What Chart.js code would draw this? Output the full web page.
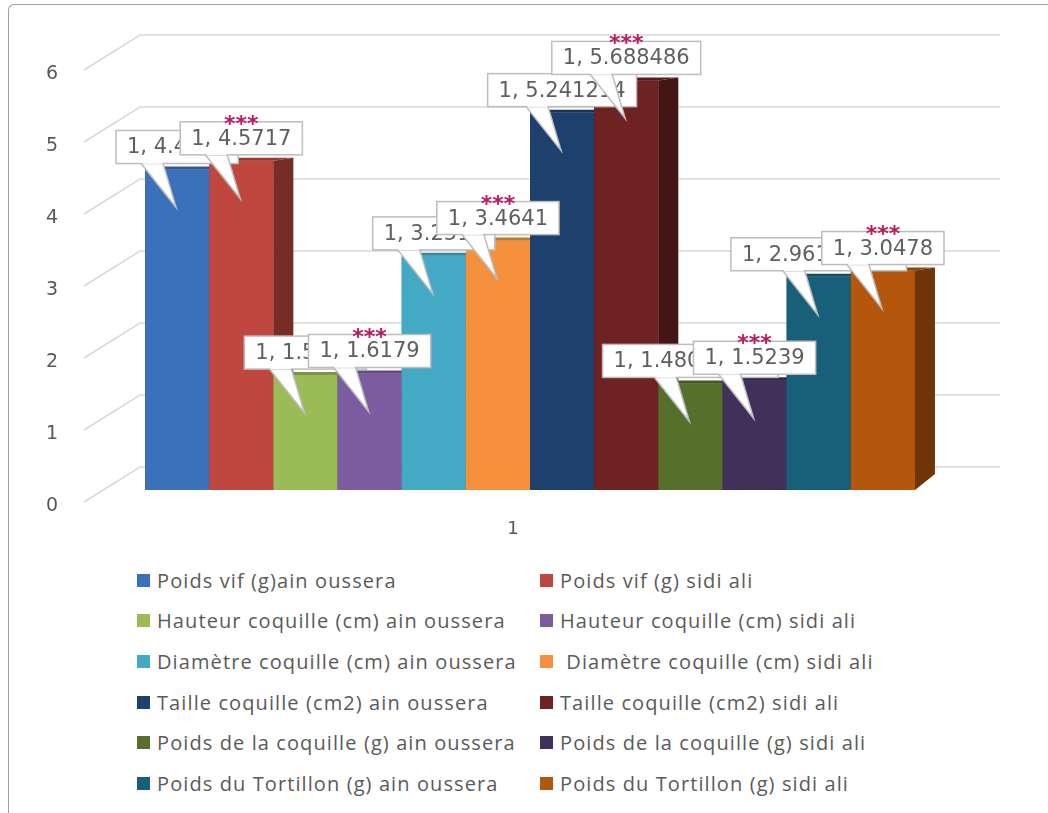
<!DOCTYPE html>
<html>
<head>
<meta charset="utf-8">
<script src="https://cdn.jsdelivr.net/npm/chart.js@4"></script>
<style>
	body { margin: 0; background: #fff; }
	#wrap { position: relative; width: 1048px; height: 813px; overflow: hidden; background: #fff; }
	#frame { position: absolute; left: 8px; top: 4px; width: 1100px; height: 900px; border-left: 1.5px solid #a0a0a0; border-top: 1.5px solid #a0a0a0; border-top-left-radius: 6px; }
	#box { position: absolute; left: 0; top: 0; width: 1048px; height: 555px; }
	#legend { position: absolute; left: 137px; top: 560px; display: grid; grid-template-columns: 403px 400px; font-family: "Open Sans", sans-serif; font-size: 20px; letter-spacing: 1.1px; color: #5a5a5a; }
	.item { height: 40.6px; display: flex; align-items: center; white-space: pre; }
	.sw { width: 13px; height: 13px; margin-right: 7px; flex: none; }
</style>
</head>
<body>
<div id="wrap">
	<div id="frame"></div>
	<div id="box"><canvas id="chart"></canvas></div>
	<div id="legend"></div>
</div>
<script>
const categories = ["1"];
const seriesNames = [
	"Poids vif (g)ain oussera",
	"Poids vif (g) sidi ali",
	"Hauteur coquille (cm) ain oussera",
	"Hauteur coquille (cm) sidi ali",
	"Diamètre coquille (cm) ain oussera",
	" Diamètre coquille (cm) sidi ali",
	"Taille coquille (cm2) ain oussera",
	"Taille coquille (cm2) sidi ali",
	"Poids de la coquille (g) ain oussera",
	"Poids de la coquille (g) sidi ali",
	"Poids du Tortillon (g) ain oussera",
	"Poids du Tortillon (g) sidi ali",
];
const seriesValues = [4.4512, 4.5717, 1.5962, 1.6179, 3.2519, 3.4641, 5.241214, 5.688486, 1.48033333, 1.5239, 2.96166667, 3.0478];
const significance = ["", "***", "", "***", "", "***", "", "***", "", "***", "", "***"];
const seriesColors = ["#3b71ba", "#c0473f", "#9bbb57", "#7b5c9f", "#43a9c5", "#f5913d", "#1d416c", "#6e2222", "#56702b", "#40305a", "#18607a", "#b4560b"];
const yTicks = [0, 1, 2, 3, 4, 5, 6];

function darken(hex, f) {
	const n = parseInt(hex.slice(1), 16);
	const r = Math.round(((n >> 16) & 255) * f);
	const g = Math.round(((n >> 8) & 255) * f);
	const b = Math.round((n & 255) * f);
	return "rgb(" + r + "," + g + "," + b + ")";
}

// fake 3d: back wall lines, then bars redrawn left to right with side + top face, then callouts
const depth = { dx: 20, top: -3, base: -16 };
const threeD = {
	id: "threeD",
	beforeDatasetsDraw(chart) {
		const ctx = chart.ctx;
		const y = chart.scales.y;
		ctx.save();
		ctx.strokeStyle = "#d9d9d9";
		ctx.lineWidth = 1.5;
		yTicks.forEach((v) => {
			const py = y.getPixelForValue(v);
			ctx.beginPath();
			ctx.moveTo(84, py + 12);
			ctx.lineTo(140, py - 23);
			ctx.lineTo(1000, py - 23);
			ctx.stroke();
		});
		ctx.restore();
	},
	afterDatasetsDraw(chart) {
		const ctx = chart.ctx;
		ctx.save();
		chart.data.datasets.forEach((ds, i) => {
			const el = chart.getDatasetMeta(i).data[0];
			el.draw(ctx, chart.chartArea);
			const p = el.getProps(["x", "y", "base", "width"], true);
			const l = p.x - p.width / 2, r = p.x + p.width / 2;
			const col = seriesColors[i];
			ctx.fillStyle = darken(col, 0.62);
			ctx.beginPath();
			ctx.moveTo(r, p.y);
			ctx.lineTo(r + depth.dx, p.y + depth.top);
			ctx.lineTo(r + depth.dx, p.base + depth.base);
			ctx.lineTo(r, p.base);
			ctx.closePath();
			ctx.fill();
			ctx.fillStyle = darken(col, 0.8);
			ctx.beginPath();
			ctx.moveTo(l, p.y);
			ctx.lineTo(r, p.y);
			ctx.lineTo(r + depth.dx, p.y + depth.top);
			ctx.lineTo(l + depth.dx, p.y + depth.top);
			ctx.closePath();
			ctx.fill();
		});

		chart.data.datasets.forEach((ds, i) => {
			const el = chart.getDatasetMeta(i).data[0];
			const cx = el.x, top = el.y;
			const text = categories[0] + ", " + ds.data[0];
			ctx.font = "21px 'DejaVu Sans'";
			const w = ctx.measureText(text).width + 22;
			const h = 33;
			const bx = cx - w / 2, by = top - 6 - h;
			ctx.fillStyle = "#fff";
			ctx.strokeStyle = "#bdbdbd";
			ctx.lineWidth = 1.5;
			ctx.beginPath();
			ctx.moveTo(cx - 36, by + h);
			ctx.lineTo(cx - 1, top + 38);
			ctx.lineTo(cx - 14, by + h);
			ctx.fill();
			ctx.stroke();
			ctx.fillRect(bx, by, w, h);
			ctx.strokeRect(bx, by, w, h);
			ctx.beginPath();
			ctx.moveTo(cx - 35, by + h - 1);
			ctx.lineTo(cx - 15, by + h - 1);
			ctx.lineWidth = 2.5;
			ctx.strokeStyle = "#fff";
			ctx.stroke();
			ctx.fillStyle = "#5f5f5f";
			ctx.textAlign = "center";
			ctx.textBaseline = "middle";
			ctx.fillText(text, cx, by + h / 2 + 1);
			if (significance[i]) {
				ctx.font = "bold 22px 'DejaVu Sans'";
				ctx.fillStyle = "#c0185c";
				ctx.textBaseline = "alphabetic";
				ctx.fillText(significance[i], cx, by + 9);
			}
		});
		ctx.restore();
	},
};

const datasets = seriesNames.map((name, i) => ({
	label: name,
	data: [seriesValues[i]],
	backgroundColor: seriesColors[i],
	borderWidth: 0,
	categoryPercentage: 0.885,
	barPercentage: 1,
}));

new Chart(document.getElementById("chart"), {
	type: "bar",
	data: { labels: categories, datasets: datasets },
	plugins: [threeD],
	options: {
		responsive: true,
		maintainAspectRatio: false,
		animation: false,
		layout: { padding: { left: 0, right: 83, top: 58, bottom: 0 } },
		plugins: { legend: { display: false }, tooltip: { enabled: false } },
		scales: {
			x: {
				grid: { display: false, drawTicks: false },
				border: { display: false },
				ticks: { color: "#595959", font: { family: "DejaVu Sans", size: 18 }, padding: 29, labelOffset: -17 },
				afterFit: (scale) => { scale.height = 65; },
			},
			y: {
				min: 0,
				max: 6,
				grid: { display: false, drawTicks: false },
				border: { display: false },
				ticks: { stepSize: 1, color: "#595959", font: { family: "DejaVu Sans", size: 19 }, padding: 37, labelOffset: 16 },
				afterFit: (scale) => { scale.width = 95; },
			},
		},
	},
});

const legend = document.getElementById("legend");
seriesNames.forEach((name, i) => {
	const item = document.createElement("div");
	item.className = "item";
	const sw = document.createElement("span");
	sw.className = "sw";
	sw.style.background = seriesColors[i];
	item.appendChild(sw);
	item.appendChild(document.createTextNode(name));
	legend.appendChild(item);
});
</script>
</body>
</html>
